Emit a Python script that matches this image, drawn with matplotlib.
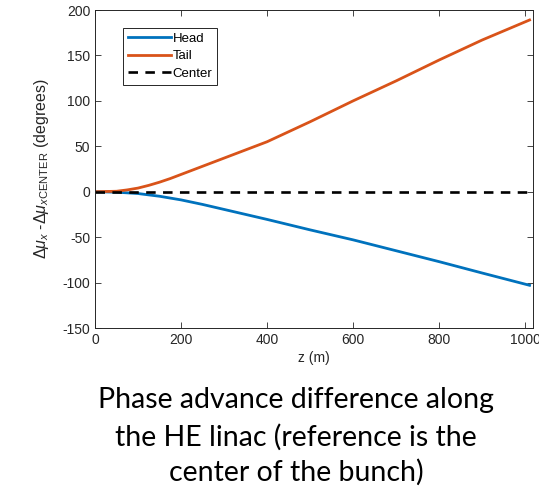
import numpy as np
import matplotlib
matplotlib.use('Agg')
import matplotlib.pyplot as plt

# values (z in m, phase difference in degrees)
z_tail = [0, 50, 75, 100, 125, 150, 175, 200, 250, 300, 350, 400, 500, 600, 700, 800, 900, 1010]
tail = [0, 0.5, 2, 4, 7, 10.5, 14.5, 19, 28, 37, 46, 55, 77, 100, 122, 145, 167, 189]
z_head = [0, 50, 100, 150, 200, 250, 300, 350, 400, 500, 600, 700, 800, 900, 1010]
head = [0, -0.5, -2, -5, -9, -14, -19.5, -25, -30.5, -42, -53, -65, -77, -89.5, -103]
z_center = [0, 1010]
center = [0, 0]

xticks = [0, 200, 400, 600, 800, 1000]
yticks = [-150, -100, -50, 0, 50, 100, 150, 200]

plt.rcParams['font.family'] = ['Liberation Sans', 'DejaVu Sans']
plt.rcParams['axes.unicode_minus'] = False
plt.rcParams['mathtext.fontset'] = 'custom'
plt.rcParams['mathtext.rm'] = 'Liberation Sans'
plt.rcParams['mathtext.it'] = 'Liberation Sans:italic'

fig = plt.figure(figsize=(5.39, 4.87), dpi=100)
ax = fig.add_axes([95/539, 1-328/487, (533-95)/539, (328-10)/487])

ax.plot(z_head, head, color='#0072BD', lw=2.0, label='Head')
ax.plot(z_tail, tail, color='#D95319', lw=2.0, label='Tail')
ax.plot(z_center, center, color='k', lw=1.9, linestyle=(0, (3.6, 2.8)), label='Center')

ax.set_xlim(0, 1018)
ax.set_ylim(-150, 200)
ax.set_xticks(xticks)
ax.set_yticks(yticks)
ax.tick_params(direction='in', top=True, right=True, labelsize=10,
               colors='#262626', length=4, width=0.6)
for s in ax.spines.values():
    s.set_color('#262626')
    s.set_linewidth(0.7)

ax.set_xlabel('z (m)', fontsize=10, color='#262626', labelpad=3)
ax.set_ylabel(r'$\Delta\mu_x$ -$\Delta\mu_{x\mathrm{CENTER}}$ (degrees)',
              fontsize=11.5, color='#262626', labelpad=8)

leg = ax.legend(loc='upper left', bbox_to_anchor=(0.064, 0.943), borderaxespad=0,
                fontsize=9.5, handlelength=3.3, handletextpad=0.1, labelspacing=0.4,
                fancybox=False, framealpha=1, borderpad=0.35)
leg.get_frame().set_edgecolor('#262626')
leg.get_frame().set_linewidth(0.7)

caption = ['Phase advance difference along',
           'the HE linac (reference is the',
           'center of the bunch)']
for txt, ypix in zip(caption, [400, 437, 472]):
    fig.text(296/539, 1-ypix/487, txt, ha='center', va='center',
             fontsize=20.5, family=['Lato', 'DejaVu Sans'])

plt.savefig('out.png', dpi=100)
